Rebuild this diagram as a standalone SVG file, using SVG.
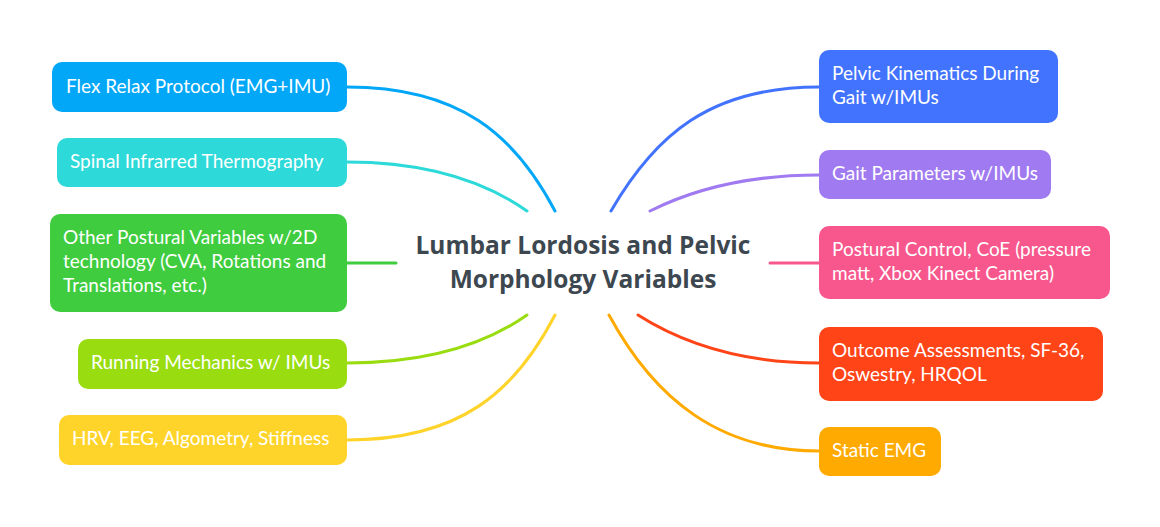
<svg xmlns="http://www.w3.org/2000/svg" width="1160" height="527" viewBox="0 0 1160 527">
<style>
.n text{font-family:Lato,"Open Sans","Liberation Sans",sans-serif;font-size:19px;fill:#fff}
.c path{fill:none;stroke-width:3;stroke-linecap:round}
.t{font-family:"Open Sans","Liberation Sans",sans-serif;font-size:24.5px;font-weight:bold;fill:#3d4750;text-anchor:middle}
</style>
<rect width="1160" height="527" fill="#fff"/>
<g class="c" id="connectors">
<path d="M555,211 C515,135 460,87 347,87" stroke="#02a7f8"/>
<path d="M527,211 C480,178 420,162 347,162" stroke="#2dd9d9"/>
<path d="M396,263 L347,263" stroke="#3fcc3f"/>
<path d="M527,315 C480,348 420,363 347,363" stroke="#99dd11"/>
<path d="M555,315 C515,392 460,440 347,440" stroke="#ffd42a"/>
<path d="M611,211 C655,135 710,87 819,87" stroke="#4273ff"/>
<path d="M650,211 C700,186 760,175 819,175" stroke="#a07af0"/>
<path d="M770,263 L819,263" stroke="#f7578c"/>
<path d="M638,315 C690,348 750,363 819,363" stroke="#ff4418"/>
<path d="M609,315 C655,400 720,451 819,451" stroke="#ffaa00"/>
</g>
<g id="center"><text class="t" x="583" y="254">Lumbar Lordosis and Pelvic</text><text class="t" x="583" y="288">Morphology Variables</text></g>
<g class="n" id="flex"><rect x="52" y="62" width="295" height="50" rx="10" fill="#02a7f8"/><text x="66" y="93">Flex Relax Protocol (EMG+IMU)</text></g>
<g class="n" id="spinal"><rect x="57" y="138" width="290" height="49" rx="10" fill="#2dd9d9"/><text x="70" y="168">Spinal Infrarred Thermography</text></g>
<g class="n" id="postural2d"><rect x="50" y="214" width="297" height="98" rx="10" fill="#3fcc3f"/><text x="63" y="244">Other Postural Variables w/2D</text><text x="63" y="268">technology (CVA, Rotations and</text><text x="63" y="292">Translations, etc.)</text></g>
<g class="n" id="running"><rect x="78" y="339" width="269" height="50" rx="10" fill="#99dd11"/><text x="91" y="369">Running Mechanics w/ IMUs</text></g>
<g class="n" id="hrv"><rect x="59" y="415" width="288" height="50" rx="10" fill="#ffd42a"/><text x="72" y="445">HRV, EEG, Algometry, Stiffness</text></g>
<g class="n" id="pelvic"><rect x="819" y="50" width="239" height="73" rx="10" fill="#4273ff"/><text x="832" y="80">Pelvic Kinematics During</text><text x="832" y="104">Gait w/IMUs</text></g>
<g class="n" id="gait"><rect x="819" y="150" width="232" height="49" rx="10" fill="#a07af0"/><text x="832" y="180">Gait Parameters w/IMUs</text></g>
<g class="n" id="control"><rect x="819" y="226" width="291" height="73" rx="10" fill="#f7578c"/><text x="832" y="256">Postural Control, CoE (pressure</text><text x="832" y="280">matt, Xbox Kinect Camera)</text></g>
<g class="n" id="outcome"><rect x="819" y="327" width="284" height="74" rx="10" fill="#ff4418"/><text x="832" y="357">Outcome Assessments, SF-36,</text><text x="832" y="381">Oswestry, HRQOL</text></g>
<g class="n" id="emg"><rect x="819" y="427" width="122" height="49" rx="10" fill="#ffaa00"/><text x="832" y="457">Static EMG</text></g>
</svg>
